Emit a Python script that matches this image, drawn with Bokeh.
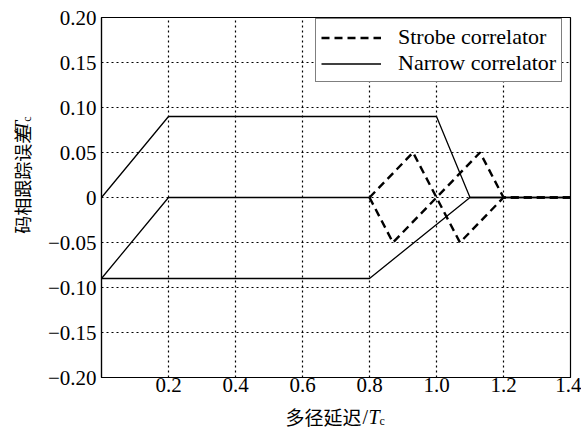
import math
from bokeh.plotting import figure
from bokeh.layouts import row, column
from bokeh.models import Range1d, FixedTicker, Legend, LegendItem
from bokeh.core.properties import value
from bokeh.embed import file_html
from bokeh.resources import INLINE

# ---- data ----
x_ticks = [0.2, 0.4, 0.6, 0.8, 1.0, 1.2, 1.4]
x_tick_labels = ["0.2", "0.4", "0.6", "0.8", "1.0", "1.2", "1.4"]
y_ticks = [-0.2, -0.15, -0.1, -0.05, 0.0, 0.05, 0.1, 0.15, 0.2]
y_tick_labels = ["\u22120.20", "\u22120.15", "\u22120.10", "\u22120.05", "0",
                 "0.05", "0.10", "0.15", "0.20"]

# Narrow correlator (solid)
narrow_upper_x = [0.0, 0.2, 1.0, 1.1, 1.4]
narrow_upper_y = [0.0, 0.09, 0.09, 0.0, 0.0]
narrow_lower_x = [0.0, 0.8, 1.1, 1.4]
narrow_lower_y = [-0.09, -0.09, 0.0, 0.0]
base_x = [0.0, 0.2, 0.8]
base_y = [-0.09, 0.0, 0.0]

# Strobe correlator (dashed)
strobe_upper_x = [0.8, 0.93, 1.07, 1.2, 1.4]
strobe_upper_y = [0.0, 0.05, -0.05, 0.0, 0.0]
strobe_lower_x = [0.8, 0.87, 1.13, 1.2, 1.4]
strobe_lower_y = [0.0, -0.05, 0.05, 0.0, 0.0]

legend_labels = ["Strobe correlator", "Narrow correlator"]
x_title_parts = ["多径延迟", "/", "T", "c"]
y_title_parts = ["码相跟踪误差", "/", "T", "c"]

SERIF = "Liberation Serif"
CJK = "Noto Sans CJK SC"

W, H = 581, 429
YLAB_W = 35
XLAB_H = 28
MAIN_W = W - YLAB_W
MAIN_H = H - XLAB_H

p = figure(width=MAIN_W, height=MAIN_H, output_backend="svg", toolbar_location=None,
           x_range=Range1d(0, 1.4), y_range=Range1d(-0.2, 0.2),
           min_border_left=101 - YLAB_W, min_border_right=11,
           min_border_top=17, min_border_bottom=MAIN_H - 377)
p.background_fill_color = "white"
p.border_fill_color = "white"
p.outline_line_color = "black"
p.outline_line_width = 1.2

for ax in (p.xaxis[0], p.yaxis[0]):
    ax.major_label_text_font = SERIF
    ax.major_label_text_font_size = "21px"
    ax.major_label_text_color = "black"
    ax.major_tick_out = 0
    ax.major_tick_in = 0
    ax.minor_tick_out = 0
    ax.minor_tick_in = 0
    ax.axis_line_color = "black"
    ax.axis_line_width = 1.2
    ax.major_label_standoff = 5

p.xaxis[0].ticker = FixedTicker(ticks=x_ticks)
p.xaxis[0].major_label_overrides = dict(zip(x_ticks, x_tick_labels))
p.yaxis[0].ticker = FixedTicker(ticks=y_ticks)
p.yaxis[0].major_label_overrides = dict(zip(y_ticks, y_tick_labels))
p.xaxis[0].major_label_standoff = 0

for g in (p.xgrid[0], p.ygrid[0]):
    g.grid_line_color = "black"
    g.grid_line_dash = "2 3"
    g.grid_line_width = 1.2
    g.grid_line_alpha = 1.0
p.xgrid[0].ticker = FixedTicker(ticks=x_ticks)
p.ygrid[0].ticker = FixedTicker(ticks=y_ticks)

# lines
r_n1 = p.line(narrow_upper_x, narrow_upper_y, line_color="black", line_width=1.3)
p.line(narrow_lower_x, narrow_lower_y, line_color="black", line_width=1.3)
p.line(base_x, base_y, line_color="black", line_width=1.3)
r_s1 = p.line(strobe_upper_x, strobe_upper_y, line_color="black", line_width=2.4,
              line_dash="8 5")
p.line(strobe_lower_x, strobe_lower_y, line_color="black", line_width=2.4,
       line_dash="8 5")

legend = Legend(items=[LegendItem(label=legend_labels[0], renderers=[r_s1]),
                       LegendItem(label=legend_labels[1], renderers=[r_n1])],
                location=(214, 295))
legend.label_text_font = SERIF
legend.label_text_font_size = "22px"
legend.label_text_color = "black"
legend.glyph_width = 60
legend.glyph_height = 21
legend.label_height = 21
legend.spacing = 0
legend.padding = 5
legend.margin = 0
legend.label_standoff = 17
legend.border_line_color = "black"
legend.border_line_width = 1.2
legend.background_fill_alpha = 1.0
p.add_layout(legend, "center")


def blank(w, h):
    f = figure(width=w, height=h, output_backend="svg", toolbar_location=None,
               x_range=Range1d(0, w), y_range=Range1d(0, h),
               min_border=0, min_border_left=0, min_border_right=0,
               min_border_top=0, min_border_bottom=0)
    f.axis.visible = False
    f.grid.visible = False
    f.outline_line_color = None
    f.background_fill_color = "white"
    f.border_fill_color = "white"
    return f


# y axis title (rotated), in a narrow strip on the left
fy = blank(YLAB_W, MAIN_H)
y_start = MAIN_H - 241      # bottom end of the title
y_mid = 21                  # centre column of the glyphs
y_specs = [(CJK, "18px", "normal", 0, 0),
           (SERIF, "19px", "normal", 108, 0),
           (SERIF, "19px", "italic", 114, 0),
           (SERIF, "12px", "normal", 125, 5)]
for txt, (font, size, style, off, dx) in zip(y_title_parts, y_specs):
    fy.text(x=[y_mid + dx], y=[y_start + off], text=[txt], angle=math.pi / 2,
            text_font=value(font), text_font_size=value(size),
            text_font_style=value(style), text_color="black",
            text_baseline=value("middle"), text_align=value("left"))

# x axis title, in a strip at the bottom
fx = blank(W, XLAB_H)
x_start = 285
x_mid = H - 416
x_specs = [(CJK, "19px", "normal", 0, 0),
           (SERIF, "20px", "normal", 77, 0),
           (SERIF, "20px", "italic", 83, 0),
           (SERIF, "12px", "normal", 94, -4)]
for txt, (font, size, style, off, dy) in zip(x_title_parts, x_specs):
    fx.text(x=[x_start + off], y=[x_mid + dy], text=[txt],
            text_font=value(font), text_font_size=value(size),
            text_font_style=value(style), text_color="black",
            text_baseline=value("middle"), text_align=value("left"))

layout = column(row(fy, p, spacing=0), fx, spacing=0)
open("out.html", "w").write(file_html(layout, INLINE))
